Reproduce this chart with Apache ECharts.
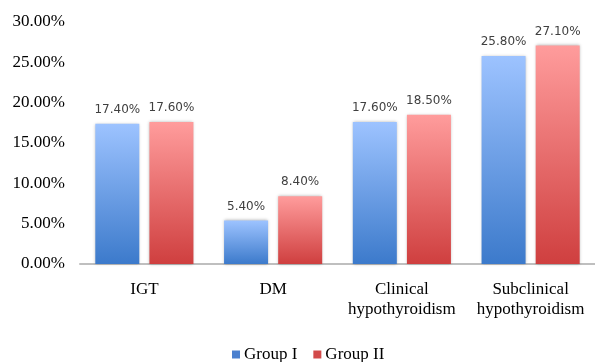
<!DOCTYPE html>
<html>
<head>
<meta charset="utf-8">
<script src="https://cdn.jsdelivr.net/npm/echarts@6/dist/echarts.min.js"></script>
<style>
  html, body { margin: 0; padding: 0; background: #fff; }
  #chart { width: 595px; height: 362px; }
</style>
</head>
<body>
<div id="chart"></div>
<script>
// Prevalence by condition for the two study groups (percent)
const categories = ['IGT', 'DM', 'Clinical\nhypothyroidism', 'Subclinical\nhypothyroidism'];
const groupNames = ['Group I', 'Group II'];
const group1 = [17.4, 5.4, 17.6, 25.8];
const group2 = [17.6, 8.4, 18.5, 27.1];
const yTicks = { min: 0, max: 30, interval: 5 };

function grad(top, bottom) {
  return new echarts.graphic.LinearGradient(0, 0, 0, 1, [
    { offset: 0, color: top },
    { offset: 1, color: bottom }
  ]);
}

const serif = '"Liberation Serif", "DejaVu Serif", serif';
const sans = '"DejaVu Sans", sans-serif';

const labelCfg = {
  show: true,
  position: 'top',
  distance: 8,
  color: '#404040',
  fontFamily: sans,
  fontSize: 12,
  formatter: p => p.value.toFixed(2) + '%'
};

const chart = echarts.init(document.getElementById('chart'), null, { renderer: 'canvas' });
chart.setOption({
  animation: false,
  backgroundColor: '#fff',
  grid: { left: 80, top: 22, width: 519, height: 242, containLabel: false },
  legend: {
    top: 346,
    left: 232,
    padding: 0,
    itemWidth: 8,
    itemHeight: 8,
    itemGap: 16,
    icon: 'rect',
    textStyle: { fontFamily: serif, fontSize: 17, color: '#000', padding: [0, 0, 0, -1] },
    data: [
      { name: groupNames[0], itemStyle: { color: '#4a80cf' } },
      { name: groupNames[1], itemStyle: { color: '#d24a4a' } }
    ]
  },
  xAxis: {
    type: 'category',
    data: categories,
    axisLine: { lineStyle: { color: '#bfbfbf', width: 2 } },
    axisTick: { show: false },
    axisLabel: {
      interval: 0,
      margin: 16,
      fontFamily: serif,
      fontSize: 17,
      color: '#000',
      lineHeight: 20
    }
  },
  yAxis: {
    type: 'value',
    min: yTicks.min,
    max: yTicks.max,
    interval: yTicks.interval,
    axisLine: { show: false },
    axisTick: { show: false },
    splitLine: { show: false },
    axisLabel: {
      margin: 15,
      fontFamily: serif,
      fontSize: 17,
      color: '#000',
      formatter: v => v.toFixed(2) + '%'
    }
  },
  series: [
    {
      name: groupNames[0],
      type: 'bar',
      data: group1,
      barWidth: 44,
      barGap: '23%',
      itemStyle: {
        color: grad('#9dc3ff', '#3c7acb'),
        shadowBlur: 3,
        shadowColor: 'rgba(0,0,0,0.3)'
      },
      label: labelCfg
    },
    {
      name: groupNames[1],
      type: 'bar',
      data: group2,
      barWidth: 44,
      barGap: '23%',
      itemStyle: {
        color: grad('#ff9c9c', '#cf3f3f'),
        shadowBlur: 3,
        shadowColor: 'rgba(0,0,0,0.3)'
      },
      label: labelCfg
    }
  ]
});
</script>
</body>
</html>
